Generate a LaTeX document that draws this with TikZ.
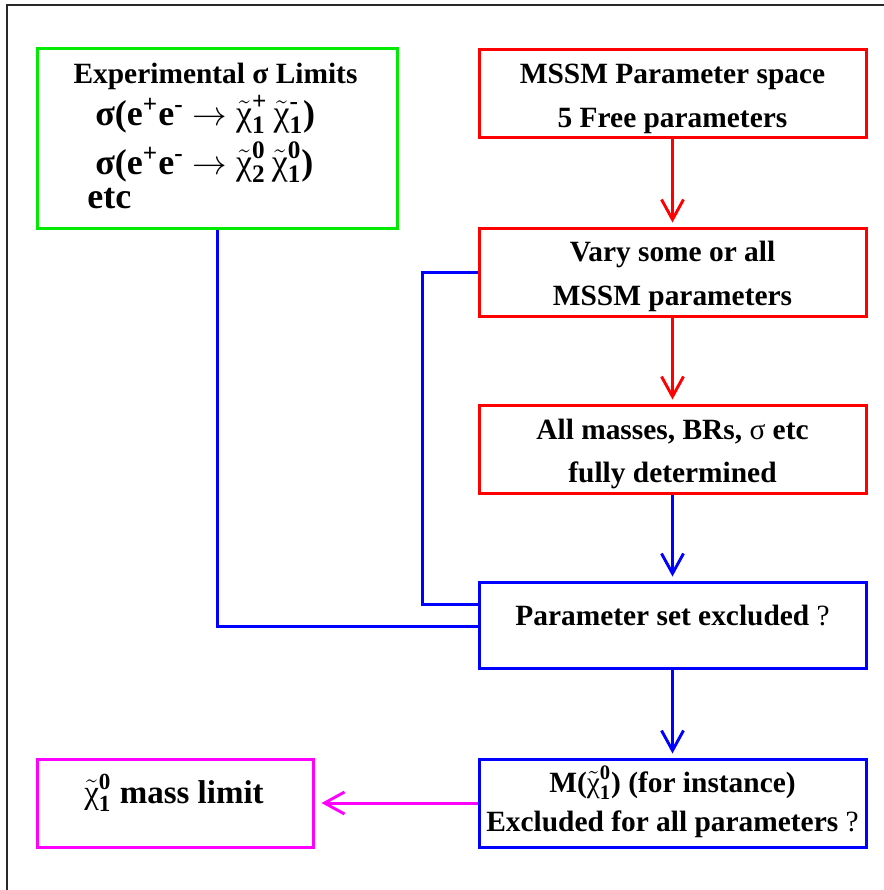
\documentclass[tikz,border=0pt]{standalone}
\usepackage{amsmath}
\usepackage{fontspec}
\setmainfont{Liberation Serif}
\usetikzlibrary{arrows.meta,calc}

\definecolor{boxgreen}{RGB}{0,235,0}
\definecolor{boxred}{RGB}{255,0,0}
\definecolor{boxblue}{RGB}{0,0,255}
\definecolor{boxmagenta}{RGB}{255,0,255}
\definecolor{framegray}{RGB}{40,40,40}

% neutralino / chargino symbol: tilde chi with bold indices
\newcommand{\chitil}[2]{\ensuremath{\tilde{\mbox{\mdseries χ}}^{\text{\bfseries #1}}_{\text{\bfseries #2}}}}

\begin{document}
\begin{tikzpicture}[x=0.5pt,y=-0.5pt,
  flowbox/.style={draw, line width=1.5pt, inner sep=0pt,
    minimum width=193.5pt, minimum height=44pt},
  txt/.style={inner sep=0pt, anchor=base, font=\bfseries\fontsize{14.7}{18}\selectfont},
  bigtxt/.style={inner sep=0pt, anchor=base west, font=\bfseries\fontsize{18}{21}\selectfont},
  conn/.style={line width=1.5pt},
  flowarrow/.style={conn, -{Straight Barb[length=10pt,width=11pt,line width=1.45pt]}, shorten >=2pt}]

\useasboundingbox (0,0) rectangle (884,890);

% page frame
\draw[framegray, line width=0.7pt] (7,890) -- (7,5) -- (884,5);

% boxes
\node[flowbox, boxgreen, minimum width=180pt, minimum height=90pt] (limits) at (217,138) {};
\node[flowbox, boxred] (space) at (672.5,93.5) {};
\node[flowbox, boxred] (vary) at (672.5,272) {};
\node[flowbox, boxred] (masses) at (672.5,449) {};
\node[flowbox, boxblue, minimum height=43pt] (excl) at (672.5,625) {};
\node[flowbox, boxblue] (allpar) at (672.5,803) {};
\node[flowbox, boxmagenta, minimum width=138pt] (masslim) at (175,803) {};

% box texts
\node[txt] (limits-t) at (215.5,83) {Experimental σ Limits};
\node[bigtxt] (limits-a) at (95,125) {σ(e\textsuperscript{+}e\textsuperscript{-} $\rightarrow$ \chitil{+}{1}\,\chitil{-}{1})};
\node[bigtxt] (limits-b) at (95,174) {σ(e\textsuperscript{+}e\textsuperscript{-} $\rightarrow$ \chitil{0}{2}\,\chitil{0}{1})};
\node[bigtxt] (limits-c) at (87,208) {etc};

\node[txt] (space-a) at (672.5,83) {MSSM Parameter space};
\node[txt] (space-b) at (672.5,127) {5 Free parameters};
\node[txt] (vary-a) at (672.5,261) {Vary some or all};
\node[txt] (vary-b) at (672.5,305) {MSSM parameters};
\node[txt] (masses-a) at (672.5,439) {All masses, BRs, {\mdseries σ} etc};
\node[txt] (masses-b) at (672.5,482) {fully determined};
\node[txt] (excl-a) at (672.5,625) {Parameter set excluded {\mdseries ?}};
\node[txt] (allpar-a) at (672.5,792) {M(\chitil{0}{1}) (for instance)};
\node[txt] (allpar-b) at (672.5,831) {Excluded for all parameters {\mdseries ?}};
\node[txt, font=\bfseries\fontsize{16.5}{20}\selectfont] (masslim-t) at (174,803) {\chitil{0}{1} mass limit};

% flow arrows
\draw[boxred, flowarrow] (space) -- (vary);
\draw[boxred, flowarrow] (vary) -- (masses);
\draw[boxblue, flowarrow] (masses) -- (excl);
\draw[boxblue, flowarrow] (excl) -- (allpar);
\draw[boxmagenta, flowarrow, shorten >=3.5pt] (allpar) -- (masslim);

% feedback lines into the exclusion test
\draw[boxblue, conn] (limits.south) |- ($(excl.west)+(0,1)$);
\draw[boxblue, conn] (vary.west) -| ($(excl.west)+(-55,-21)$) -- ($(excl.west)+(0,-21)$);
\end{tikzpicture}
\end{document}
